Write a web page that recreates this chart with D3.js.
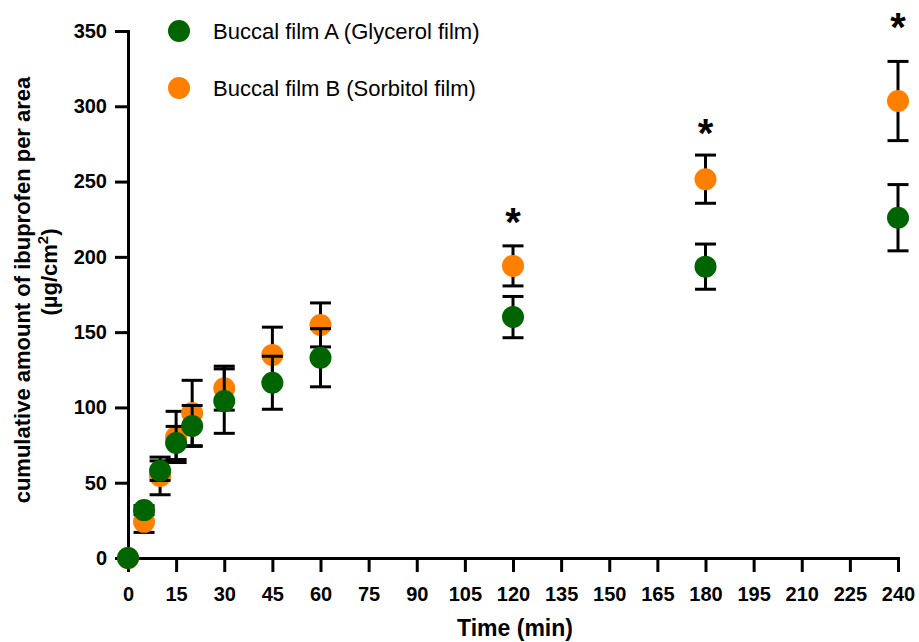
<!DOCTYPE html>
<html>
<head>
<meta charset="utf-8">
<script src="https://cdn.jsdelivr.net/npm/d3@7"></script>
<style>
  body { margin: 0; background: #fff; }
  svg { display: block; font-family: "Liberation Sans", Arial, sans-serif; }
</style>
</head>
<body>
<svg id="chart" width="919" height="642"></svg>
<script>
// ---- data ----
const times = [0, 5, 10, 15, 20, 30, 45, 60, 120, 180, 240];
const filmA_mean = [0, 31.8, 58, 76.4, 87.7, 104.2, 116.4, 133, 160, 193.5, 226];
const filmA_sd   = [0, 3, 6.5, 11, 13.6, 21.4, 17.6, 19.3, 13.7, 15, 22];
const filmB_mean = [0, 24, 54.5, 80.4, 96.3, 112.8, 134.9, 154.8, 194, 251.6, 303.5];
const filmB_sd   = [0, 7, 12.5, 17, 21.7, 14.6, 18.4, 14.6, 13.3, 16, 26.3];
const seriesNames = ["Buccal film A (Glycerol film)", "Buccal film B (Sorbitol film)"];
const sigTimes = [120, 180, 240];
const sigValues = [228, 287, 357];
const xTicks = d3.range(0, 241, 15);
const yTicks = d3.range(0, 351, 50);

const GREEN = "#006400", ORANGE = "#ff8000";

const svg = d3.select("#chart");
const x = d3.scaleLinear().domain([0, 240]).range([128, 898]);
const y = d3.scaleLinear().domain([0, 350]).range([558, 31]);

// axes
const xAxis = svg.append("g").attr("transform", "translate(0,558)")
  .call(d3.axisBottom(x).tickValues(xTicks).tickSize(14).tickSizeOuter(0).tickPadding(15));
const yAxis = svg.append("g").attr("transform", "translate(128,0)")
  .call(d3.axisLeft(y).tickValues(yTicks).tickSize(13).tickSizeOuter(0).tickPadding(8));
[xAxis, yAxis].forEach(g => {
  g.select(".domain").attr("stroke", "#000").attr("stroke-width", 3).attr("stroke-linecap", "square");
  g.selectAll(".tick line").attr("stroke", "#000").attr("stroke-width", 3);
  g.selectAll(".tick text").attr("fill", "#000").attr("font-size", 20).attr("font-weight", "bold")
    .attr("font-family", "'Liberation Sans', Arial, sans-serif");
});

// axis titles
svg.append("text").attr("x", 515).attr("y", 636).attr("text-anchor", "middle")
  .attr("font-size", 23).attr("font-weight", "bold").text("Time (min)");

const yt = svg.append("g");
yt.append("text").attr("transform", "translate(30,290) rotate(-90)").attr("text-anchor", "middle")
  .attr("font-size", 22).attr("font-weight", "bold").text("cumulative amount of ibuprofen per area");
const t2 = yt.append("text").attr("transform", "translate(57,272) rotate(-90)").attr("text-anchor", "middle")
  .attr("font-size", 22).attr("font-weight", "bold");
t2.append("tspan").text("(µg/cm");
t2.append("tspan").attr("font-size", 15).attr("dy", -9).text("2");
t2.append("tspan").attr("dy", 9).text(")");

// data series
const dataA = times.map((t, i) => ({t, m: filmA_mean[i], sd: filmA_sd[i]}));
const dataB = times.map((t, i) => ({t, m: filmB_mean[i], sd: filmB_sd[i]}));

function drawErr(data) {
  const g = svg.append("g").attr("stroke", "#000").attr("stroke-width", 3).attr("fill", "none");
  data.filter(d => d.sd > 0).forEach(d => {
    const cx = x(d.t), y1 = y(d.m + d.sd), y0 = y(d.m - d.sd);
    g.append("line").attr("x1", cx).attr("x2", cx).attr("y1", y1).attr("y2", y0);
    g.append("line").attr("x1", cx - 10.5).attr("x2", cx + 10.5).attr("y1", y1).attr("y2", y1);
    g.append("line").attr("x1", cx - 10.5).attr("x2", cx + 10.5).attr("y1", y0).attr("y2", y0);
  });
}
function drawPts(data, color) {
  svg.append("g").selectAll("circle").data(data).join("circle")
    .attr("cx", d => x(d.t)).attr("cy", d => y(d.m)).attr("r", 11).attr("fill", color);
}
drawErr(dataB);
drawPts(dataB, ORANGE);
drawErr(dataA);
drawPts(dataA, GREEN);

// significance stars
svg.append("g").selectAll("text").data(sigTimes).join("text")
  .attr("x", d => x(d)).attr("y", (d, i) => y(sigValues[i]) + 21)
  .attr("text-anchor", "middle").attr("font-size", 40).attr("font-weight", "bold").text("*");

// legend
const leg = svg.append("g");
[[GREEN, 31], [ORANGE, 88]].forEach(([c, ly], i) => {
  leg.append("circle").attr("cx", 179).attr("cy", ly).attr("r", 11).attr("fill", c);
  leg.append("text").attr("x", 213).attr("y", ly).attr("dy", "0.36em")
    .attr("font-size", 22).text(seriesNames[i]);
});
</script>
</body>
</html>
